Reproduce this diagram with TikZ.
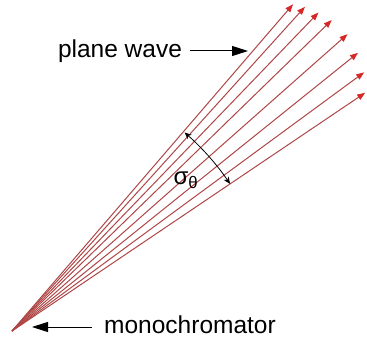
\documentclass[tikz,border=0pt]{standalone}
\usepackage{fontspec}
\setmainfont{Liberation Sans}
\usepackage{tikz}
\usetikzlibrary{arrows.meta, positioning}

\definecolor{raycol}{RGB}{175,70,70}
\definecolor{tipcol}{RGB}{215,40,40}

\begin{document}
\begin{tikzpicture}[
  x=1pt, y=1pt,
  label/.style={font=\fontsize{24.5}{28}\selectfont, inner sep=0pt},
  ray/.style={draw=raycol, line width=1pt, -{Triangle[length=8pt, width=6pt, color=tipcol]}},
  pointer/.style={-{Triangle[length=16pt, width=10pt]}, line width=1pt},
  spread/.style={{Stealth[length=7pt, width=6pt]}-{Stealth[length=7pt, width=6pt]}, line width=0.8pt}
]
\useasboundingbox (0,0) rectangle (367,346);
\coordinate (src) at (12,15);

% rays leaving the monochromator
\foreach \a/\r in {49.3/431, 47.9/437, 46.1/442, 44.2/446, 41.5/448, 38.8/444, 36.3/437, 34.0/426}
  \draw[ray] (src) -- ++(\a:\r);

\node[label] (wave) at (120,295) {plane wave};
\coordinate (wavetip) at (248,295);
\draw[pointer] (wave.east) ++(8,0) -- (wavetip);

\node[label] (mono) at (190,21) {monochromator};
\coordinate (monotip) at (32,19);
\draw[pointer] (mono.west) ++(-12,-2) -- (monotip);

% angular spread
\draw[spread] (src) ++(49:263) arc[start angle=49, end angle=34, radius=263];
\node[font=\fontsize{24}{27}\selectfont] (sigma) at (186,166) {σ\textsubscript{θ}};
\end{tikzpicture}
\end{document}
